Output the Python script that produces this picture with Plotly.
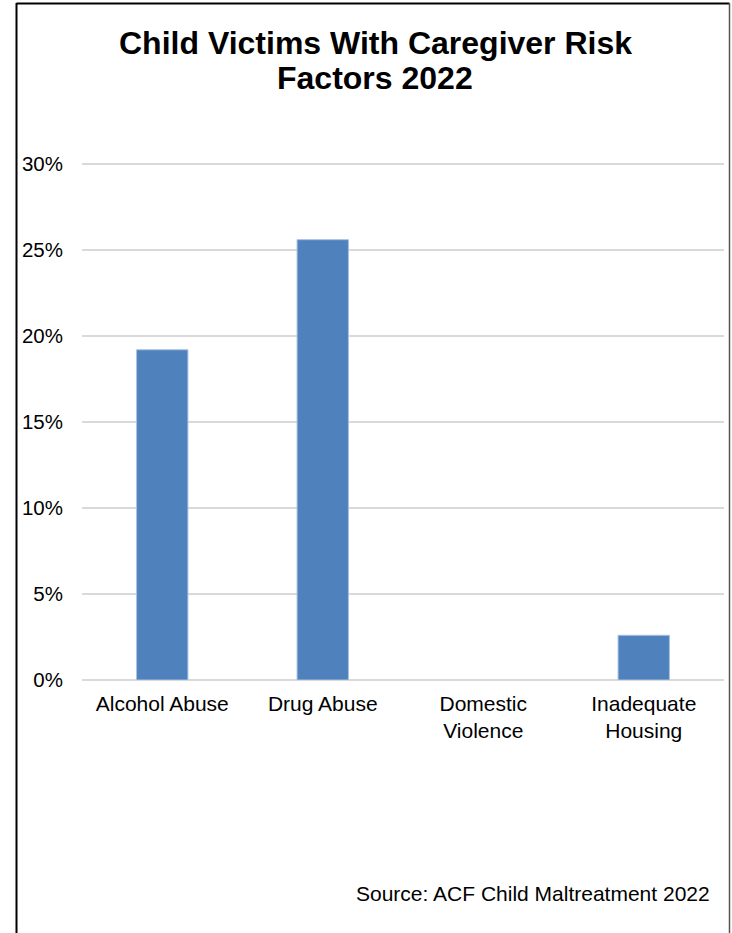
import plotly.graph_objects as go

categories = ["Alcohol Abuse", "Drug Abuse", "Domestic<br>Violence", "Inadequate<br>Housing"]
values = [0.192, 0.256, None, 0.026]
tick_vals = [0, 0.05, 0.10, 0.15, 0.20, 0.25, 0.30]
tick_text = ["0%", "5%", "10%", "15%", "20%", "25%", "30%"]
title_lines = ["Child Victims With Caregiver Risk", "Factors 2022"]
source_text = "Source: ACF Child Maltreatment 2022"

FONT = "Liberation Sans, Arial, sans-serif"

W, H = 732, 933
pl, pr, pt, pb = 82, 8, 162, 253
pw, ph = W - pl - pr, H - pt - pb
y_max = 0.3 + 0.05 * 2 / 86


def px_x(x):
    return (x - pl) / pw


def px_y(y):
    return (H - pb - y) / ph


fig = go.Figure()
fig.add_trace(go.Bar(
    x=categories, y=values,
    marker=dict(color="#4F81BD", line=dict(color="#A9C1E0", width=1)),
    width=0.32,
))

fig.update_layout(
    width=W, height=H,
    paper_bgcolor="white", plot_bgcolor="white",
    margin=dict(l=pl, r=pr, t=pt, b=pb),
    showlegend=False,
    font=dict(family=FONT, size=20, color="#000000"),
    xaxis=dict(showgrid=False, showline=False, ticks="", tickfont=dict(size=21),
               ticklabelstandoff=9),
    yaxis=dict(range=[0, y_max], tickvals=tick_vals, ticktext=tick_text,
               showgrid=True, gridcolor="#D9D9D9", gridwidth=2,
               zeroline=True, zerolinecolor="#D9D9D9", zerolinewidth=2,
               showline=False, ticks="", ticklabelstandoff=18, tickfont=dict(size=20.5)),
    shapes=[
        dict(type="line", xref="paper", yref="paper", x0=px_x(16.5), x1=px_x(16.5), y0=px_y(3), y1=px_y(940),
             line=dict(color="black", width=2)),
        dict(type="line", xref="paper", yref="paper", x0=px_x(16.5), x1=px_x(729.5), y0=px_y(3.5), y1=px_y(3.5),
             line=dict(color="black", width=2)),
        dict(type="line", xref="paper", yref="paper", x0=px_x(729.5), x1=px_x(729.5), y0=px_y(3), y1=px_y(940),
             line=dict(color="#555555", width=1.5)),
    ],
    annotations=[
        dict(text="<b>" + title_lines[0] + "</b>", xref="paper", yref="paper", x=px_x(375), y=px_y(43),
             xanchor="center", yanchor="middle", showarrow=False,
             font=dict(family=FONT, size=32, color="#000000")),
        dict(text="<b>" + title_lines[1] + "</b>", xref="paper", yref="paper", x=px_x(375), y=px_y(78),
             xanchor="center", yanchor="middle", showarrow=False,
             font=dict(family=FONT, size=32, color="#000000")),
        dict(text=source_text, xref="paper", yref="paper", x=px_x(712), y=px_y(893),
             xanchor="right", yanchor="middle", showarrow=False,
             font=dict(family=FONT, size=21, color="#000000")),
    ],
)

fig.write_html("out.html")
